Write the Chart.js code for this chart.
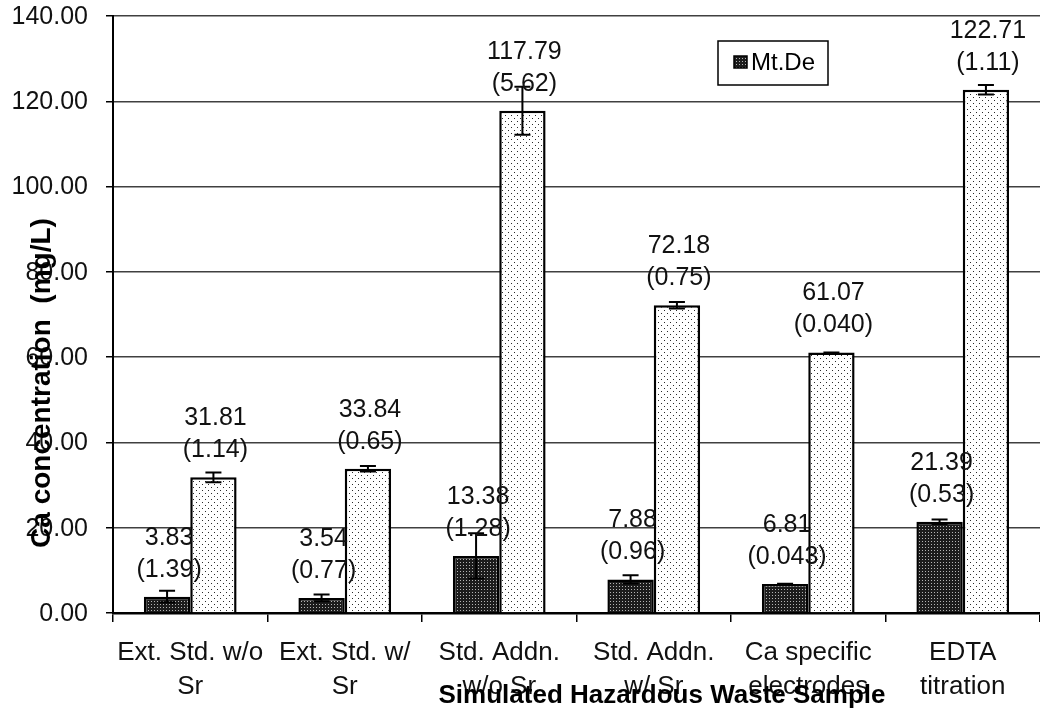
<!DOCTYPE html>
<html>
<head>
<meta charset="utf-8">
<script src="https://cdn.jsdelivr.net/npm/chart.js@4/dist/chart.umd.min.js"></script>
<style>
  html, body { margin: 0; padding: 0; background: #fff; }
  canvas { display: block; }
</style>
</head>
<body>
<canvas id="chart" width="1040" height="710"></canvas>
<script>
const categories = [
  ['Ext. Std. w/o', 'Sr'],
  ['Ext. Std. w/', 'Sr'],
  ['Std. Addn.', 'w/o Sr'],
  ['Std. Addn.', 'w/ Sr'],
  ['Ca specific', 'electrodes'],
  ['EDTA', 'titration']
];
const mtDeValues = [3.83, 3.54, 13.38, 7.88, 6.81, 21.39];
const mtDeSd = ['1.39', '0.77', '1.28', '0.96', '0.043', '0.53'];
const mtDeErr = [1.39, 0.77, 5.3, 0.96, 0.043, 0.53];
const refValues = [31.81, 33.84, 117.79, 72.18, 61.07, 122.71];
const refSd = ['1.14', '0.65', '5.62', '0.75', '0.040', '1.11'];
const refErr = [1.14, 0.65, 5.62, 0.75, 0.04, 1.11];
const yTicks = [0, 20, 40, 60, 80, 100, 120, 140];

const FONT = '"Liberation Sans", Arial, sans-serif';

function makePattern(size, bg, dot, dots) {
  const c = document.createElement('canvas');
  c.width = size; c.height = size;
  const g = c.getContext('2d');
  g.fillStyle = bg;
  g.fillRect(0, 0, size, size);
  g.fillStyle = dot;
  dots.forEach(([x, y]) => g.fillRect(x, y, 1, 1));
  return g.createPattern(c, 'repeat');
}

const ctx = document.getElementById('chart').getContext('2d');
const darkFill = makePattern(3, '#1c1c1c', '#b4b4b4', [[1, 1]]);
const lightFill = makePattern(6, '#ffffff', '#2a2a2a', [[1, 1], [4, 4]]);

// y tick labels, drawn from the scale's own ticks
const yLabels = {
  id: 'yLabels',
  afterDraw(chart) {
    const y = chart.scales.y;
    const c = chart.ctx;
    c.save();
    c.fillStyle = '#111';
    c.font = '25px ' + FONT;
    c.textAlign = 'right';
    c.textBaseline = 'middle';
    y.ticks.forEach(t => {
      c.fillText(t.value.toFixed(2), y.right - 25, y.getPixelForValue(t.value) + 1);
    });
    c.restore();
  }
};

// error bars drawn over the bars from the y scale
const errorBars = {
  id: 'errorBars',
  afterDatasetsDraw(chart) {
    const y = chart.scales.y;
    const c = chart.ctx;
    c.save();
    c.strokeStyle = '#000';
    c.lineWidth = 2;
    chart.data.datasets.forEach((ds, i) => {
      const meta = chart.getDatasetMeta(i);
      meta.data.forEach((bar, j) => {
        const v = ds.data[j], e = ds.err[j];
        const top = y.getPixelForValue(v + e);
        const bot = y.getPixelForValue(v - e);
        const x = bar.x;
        c.beginPath();
        c.moveTo(x, top); c.lineTo(x, bot);
        c.moveTo(x - 8, top); c.lineTo(x + 8, top);
        c.moveTo(x - 8, bot); c.lineTo(x + 8, bot);
        c.stroke();
      });
    });
    c.restore();
  }
};

// value and (sd) labels above each bar
const valueLabels = {
  id: 'valueLabels',
  afterDatasetsDraw(chart) {
    const c = chart.ctx;
    c.save();
    c.fillStyle = '#111';
    c.font = '25px ' + FONT;
    c.textAlign = 'center';
    c.textBaseline = 'middle';
    chart.data.datasets.forEach((ds, i) => {
      chart.getDatasetMeta(i).data.forEach((bar, j) => {
        c.fillText(ds.data[j].toFixed(2), bar.x + 2, bar.y - 59);
        c.fillText('(' + ds.sd[j] + ')', bar.x + 2, bar.y - 27);
      });
    });
    c.restore();
  }
};

// axis titles and the legend box sit on top of the plot
const overlay = {
  id: 'overlay',
  afterDraw(chart) {
    const c = chart.ctx;
    c.save();
    c.fillStyle = '#000';
    c.font = 'bold 26px ' + FONT;
    c.textAlign = 'center';
    c.textBaseline = 'alphabetic';
    c.fillText('Simulated Hazardous Waste Sample', 662, 703);

    c.translate(42, 383);
    c.rotate(-Math.PI / 2);
    c.font = 'bold 28px ' + FONT;
    c.textBaseline = 'middle';
    c.fillText('Ca concentration  (mg/L)', 0, 0);
    c.restore();

    c.save();
    c.fillStyle = '#fff';
    c.fillRect(718, 41, 110, 44);
    c.strokeStyle = '#000';
    c.lineWidth = 1.5;
    c.strokeRect(718, 41, 110, 44);
    c.fillStyle = darkFill;
    c.fillRect(734, 56, 13, 12);
    c.strokeRect(734, 56, 13, 12);
    c.fillStyle = '#000';
    c.font = '24px ' + FONT;
    c.textAlign = 'left';
    c.textBaseline = 'middle';
    c.fillText('Mt.De', 751, 63);
    c.restore();
  }
};

new Chart(ctx, {
  type: 'bar',
  data: {
    labels: categories,
    datasets: [
      {
        label: 'Mt.De',
        data: mtDeValues,
        sd: mtDeSd,
        err: mtDeErr,
        backgroundColor: darkFill,
        borderColor: '#000',
        borderWidth: 2.5,
        borderSkipped: 'bottom'
      },
      {
        label: '',
        data: refValues,
        sd: refSd,
        err: refErr,
        backgroundColor: lightFill,
        borderColor: '#000',
        borderWidth: 2.5,
        borderSkipped: 'bottom'
      }
    ]
  },
  options: {
    responsive: false,
    animation: false,
    devicePixelRatio: 1,
    layout: { padding: { top: 16, right: 0, bottom: 0, left: 0 } },
    datasets: {
      bar: { categoryPercentage: 0.6, barPercentage: 1.0 }
    },
    plugins: {
      legend: { display: false },
      tooltip: { enabled: false }
    },
    scales: {
      x: {
        afterFit(scale) { scale.height = 97; },
        grid: {
          display: true,
          drawOnChartArea: false,
          offset: true,
          tickLength: 9,
          color: '#000',
          lineWidth: 1.5
        },
        border: { display: true, color: '#000', width: 2.5 },
        ticks: {
          color: '#111',
          padding: 13,
          maxRotation: 0,
          autoSkip: false,
          font: { family: FONT, size: 26, lineHeight: 1.34 }
        }
      },
      y: {
        min: 0,
        max: 140,
        afterFit(scale) { scale.width = 113; },
        afterBuildTicks(scale) { scale.ticks = yTicks.map(v => ({ value: v })); },
        grid: {
          color: '#404040',
          lineWidth: 1.5,
          tickLength: 7,
          tickColor: '#000'
        },
        border: { display: true, color: '#000', width: 2 },
        ticks: { display: false }
      }
    }
  },
  plugins: [yLabels, errorBars, valueLabels, overlay]
});
</script>
</body>
</html>
